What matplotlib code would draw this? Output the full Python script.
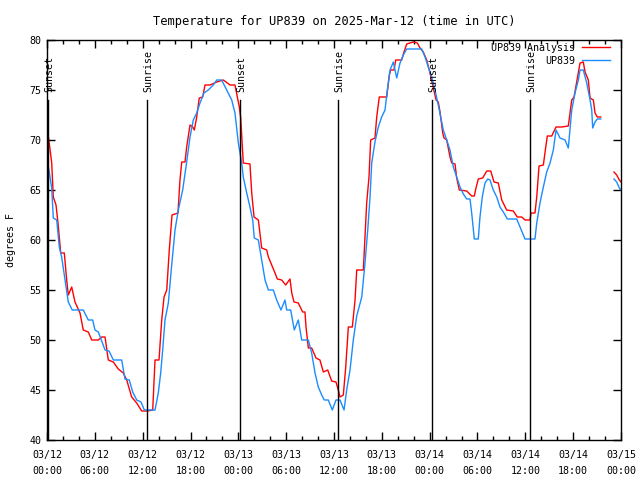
import numpy as np
import matplotlib
matplotlib.use("Agg")
import matplotlib.pyplot as plt

# hours since 03/12 00:00 UTC, temperatures in degrees F (nan = gap)
ana_hours = [0.2, 0.59, 0.79, 1.13, 1.38, 1.72, 2.17, 2.47, 2.67, 3.10, 3.51, 4.14, 4.55, 5.18, 5.61,
             6.44, 6.86, 7.28, 7.69, 8.32, 8.94, 9.57, 10.0, 10.62, 11.25, 11.88, 12.58, 13.26, 13.55,
             14.05, 14.39, 14.68, 15.02, 15.34, 15.68, 16.43, 16.68, 16.90, 17.31, 17.52, 17.94, 18.28,
             18.48, 18.78, 19.10, 19.53, 19.82, 20.45, 21.29, 22.12, 22.96, 23.58, 24.12, 24.30, 24.50,
             24.62, 25.46, 25.68, 25.97, 26.51, 26.93, 27.56, 27.77, 28.19, 28.60, 28.89, 29.44, 29.94,
             30.48, 30.70, 30.98, 31.52, 32.07, 32.36, 32.49, 32.78, 33.20, 33.74, 34.24, 34.66, 35.21,
             35.71, 36.25, 36.54, 36.75, 37.17, 37.47, 37.80, 38.30, 38.64, 38.85, 39.68, 39.89, 40.10,
             40.39, 40.60, 41.14, 41.36, 41.68, 42.61, 42.94, 43.11, 43.53, 43.74, 44.49, 44.78, 45.12,
             45.95, 46.45, 46.79, 47.20, 47.63, 48.04, 48.46, 48.80, 49.08, 49.30, 49.64, 49.80, 50.14,
             50.55, 50.77, 51.18, 51.39, 51.72, 52.65, 53.27, 53.60, 53.81, 54.10, 54.65, 55.16, 55.66,
             56.07, 56.61, 57.04, 57.66, 58.49, 58.99, 59.55, 59.96, 60.59, 60.71, 61.21, 61.43, 61.72,
             62.26, 62.56, 62.76, 63.31, 63.85, 64.56, 65.39, 65.60, 65.82, 66.11, 66.44, 66.86, 67.27,
             67.49, 67.90, 68.12, 68.53, 68.74, 69.03, 69.46, 70.3, 71.12, 71.46, 71.79, 72.0]
ana_temp = [70.2, 67.7, 64.3, 63.5, 61.7, 58.7, 58.7, 56.0, 54.5, 55.3, 53.8, 52.7, 51.0, 50.8, 50.0,
            50.0, 50.3, 50.3, 48.0, 47.8, 47.1, 46.7, 46.0, 44.3, 43.7, 42.9, 42.9, 43.0, 48.0,
            48.0, 52.0, 54.3, 55.0, 59.0, 62.5, 62.7, 66.0, 67.8, 67.8, 69.3, 71.5, 71.3,
            71.0, 72.3, 74.2, 74.3, 75.5, 75.5, 75.8, 76.0, 75.5, 75.5, 73.3, 72.2, 69.3,
            67.7, 67.6, 64.7, 62.3, 62.0, 59.2, 59.0, 58.3, 57.5, 56.7, 56.1, 56.0, 55.5,
            56.1, 54.7, 53.8, 53.7, 52.8, 52.8, 51.3, 49.2, 49.2, 48.2, 48.0, 46.8, 47.0,
            45.9, 45.8, 45.0, 44.3, 44.5, 47.3, 51.3, 51.3, 54.0, 57.0, 57.0, 60.3, 63.7,
            66.3, 70.0, 70.2, 72.3, 74.3, 74.3, 76.5, 77.0, 77.0, 78.0, 78.0, 78.8, 79.6,
            79.8, 79.7, 79.2, 78.8, 78.0, 76.7, 75.2, 74.0, 73.8, 72.8, 70.7, 70.2, 70.0,
            68.3, 67.7, 67.6, 66.2, 65.0, 64.9, 64.4, 64.4, 65.2, 66.1, 66.2, 66.9, 66.9,
            65.8, 65.7, 64.0, 63.0, 62.9, 62.3, 62.3, 62.0, 62.0, 62.7, 62.7, 64.3, 67.4,
            67.5, 69.3, 70.4, 70.4, 71.3, 71.3, 71.4, 72.7, 74.0, 74.3, 75.8, 77.7, 77.8,
            76.8, 76.0, 74.2, 74.0, 72.7, 72.3, 72.3, np.nan, 66.8, 66.5, 66.0, 65.8]

obs_hours = [0.2, 0.59, 0.79, 1.22, 1.54, 1.84, 2.26, 2.67, 3.17, 4.55, 5.18, 5.73, 6.02, 6.44, 7.28,
             7.78, 8.32, 9.37, 9.78, 10.32, 10.75, 11.25, 11.79, 12.21, 13.55, 13.96, 14.26, 14.51,
             14.80, 15.22, 15.64, 16.06, 16.47, 17.02, 17.52, 17.94, 18.35, 18.78, 19.19, 19.69, 20.23,
             20.86, 21.29, 21.91, 22.54, 23.17, 23.58, 24.00, 24.42, 24.62, 25.05, 25.46, 25.80, 26.00,
             26.51, 26.93, 27.35, 27.77, 28.39, 28.81, 29.35, 29.85, 30.07, 30.57, 31.02, 31.52, 31.95,
             32.78, 33.20, 33.62, 34.03, 34.46, 34.78, 35.28, 35.79, 36.25, 36.75, 37.26, 37.59, 38.01,
             38.42, 38.85, 39.48, 39.89, 40.23, 40.52, 40.73, 41.14, 41.56, 41.98, 42.40, 42.69, 43.03,
             43.44, 43.87, 44.28, 44.70, 45.12, 47.00, 47.42, 47.83, 48.26, 48.67, 49.08, 49.71, 50.14,
             50.55, 50.97, 51.39, 51.81, 52.22, 52.65, 53.06, 53.27, 53.60, 54.10, 54.31, 54.60, 54.94,
             55.28, 55.57, 55.98, 56.41, 56.82, 57.24, 57.74, 58.92, 59.33, 59.96, 61.21, 61.43, 61.84,
             62.26, 62.68, 63.10, 63.51, 63.85, 64.35, 64.98, 65.39, 65.60, 65.82, 66.23, 66.65, 66.86,
             67.27, 67.70, 68.12, 68.33, 68.45, 68.74, 69.03, 69.46, 70.3, 71.12, 71.46, 71.79, 72.0]
obs_temp = [67.2, 65.2, 62.2, 62.0, 59.3, 58.3, 56.0, 53.8, 53.0, 53.0, 52.0, 52.0, 51.0, 50.8, 49.0,
            48.9, 48.0, 48.0, 46.1, 46.0, 44.8, 44.0, 43.8, 43.0, 43.0, 44.7, 46.7, 49.0,
            52.0, 53.7, 57.5, 61.0, 63.0, 65.0, 67.8, 70.3, 72.0, 72.7, 73.7, 74.7, 75.0,
            75.5, 76.0, 76.0, 75.0, 74.0, 72.7, 69.7, 67.7, 66.3, 64.7, 63.3, 62.0, 60.2,
            60.0, 58.0, 56.0, 55.0, 55.0, 54.0, 53.0, 54.0, 53.0, 53.0, 51.0, 52.0, 50.0,
            50.0, 48.7, 46.7, 45.3, 44.5, 44.0, 44.0, 43.0, 44.0, 44.0, 43.0, 45.0, 47.0,
            50.0, 52.4, 54.3, 57.7, 61.0, 64.3, 67.7, 69.8, 71.3, 72.3, 73.0, 75.0, 77.0,
            77.8, 76.2, 77.7, 78.5, 79.1, 79.1, 78.3, 77.3, 76.3, 75.0, 73.5, 71.0, 70.0,
            69.0, 67.3, 66.3, 65.3, 64.6, 64.1, 64.1, 62.7, 60.1, 60.1, 62.3, 64.3, 65.7,
            66.1, 66.0, 65.0, 64.3, 63.3, 62.8, 62.1, 62.1, 61.3, 60.1, 60.1, 61.7, 63.7,
            65.3, 66.8, 67.7, 69.0, 71.0, 70.2, 70.0, 69.2, 71.0, 73.0, 74.7, 76.0, 77.0,
            77.0, 75.7, 74.0, 73.0, 71.2, 71.8, 72.1, 72.1, np.nan, 66.1, 65.8, 65.2, 65.0]

sun_hours = [0.15, 12.55, 24.2, 36.5, 48.3, 60.6]
sun_labels = ["Sunset", "Sunrise", "Sunset", "Sunrise", "Sunset", "Sunrise"]

tick_hours = np.arange(0, 73, 6)
tick_labels = ["03/12\n00:00", "03/12\n06:00", "03/12\n12:00", "03/12\n18:00",
               "03/13\n00:00", "03/13\n06:00", "03/13\n12:00", "03/13\n18:00",
               "03/14\n00:00", "03/14\n06:00", "03/14\n12:00", "03/14\n18:00",
               "03/15\n00:00"]

plt.rcParams["font.family"] = "DejaVu Sans Mono"
plt.rcParams["font.size"] = 7.2

fig = plt.figure(figsize=(6.4, 4.8), dpi=100)
ax = fig.add_axes([47 / 640, 40 / 480, 574 / 640, 400 / 480])

ax.plot(ana_hours, ana_temp, color="#ff0000", linewidth=1.0, label="UP839 Analysis")
ax.plot(obs_hours, obs_temp, color="#1a8cff", linewidth=1.0, label="UP839")

for h, lab in zip(sun_hours, sun_labels):
    ax.plot([h, h], [40, 74], color="black", linewidth=1.0)
    ax.text(h + 0.15, 74.8, lab, rotation=90, ha="center", va="bottom")

ax.set_xlim(0, 72)
ax.set_ylim(40, 80)
ax.set_xticks(tick_hours)
ax.set_xticklabels(tick_labels, linespacing=1.75)
ax.set_xticks(np.arange(0, 73, 2), minor=True)
ax.set_yticks(np.arange(40, 81, 5))
ax.tick_params(which="both", direction="in", top=True, right=True, width=1)
ax.tick_params(which="major", length=6, pad=4)
ax.tick_params(which="minor", length=3)
ax.tick_params(axis="x", which="major", pad=7)
for s in ax.spines.values():
    s.set_linewidth(1)

ax.set_ylabel("degrees F", labelpad=10)
ax.set_title("Temperature for UP839 on 2025-Mar-12 (time in UTC)", pad=11)

ax.legend(loc="upper right", bbox_to_anchor=(0.981, 0.993), frameon=False, markerfirst=False,
          handlelength=2.8, handletextpad=0.7, labelspacing=0.3, borderpad=0, borderaxespad=0)

fig.savefig("out.png", dpi=100)
